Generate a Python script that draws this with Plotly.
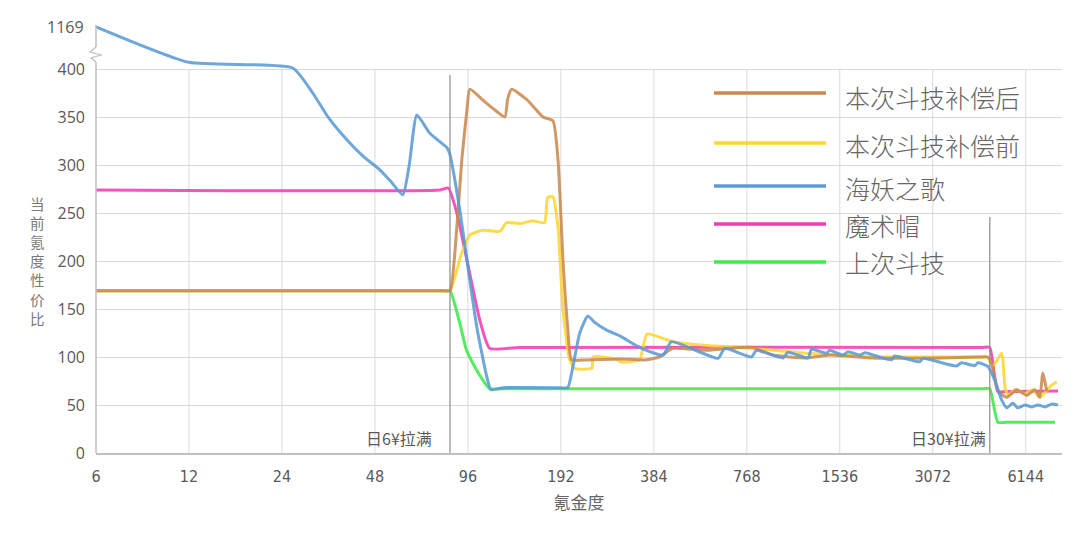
import math
import plotly.graph_objects as go

# ---------------- data ----------------
x_ticks = [6, 12, 24, 48, 96, 192, 384, 768, 1536, 3072, 6144]
y_ticks = [0, 50, 100, 150, 200, 250, 300, 350, 400]
y_top_label = 1169
x_min, x_max = 6, 8050

series_names = ["本次斗技补偿后", "本次斗技补偿前", "海妖之歌", "魔术帽", "上次斗技"]
series_colors = ["#CB8A52", "#FFD633", "#5B9BD5", "#F23DB5", "#3DEB4A"]

after_x = [6, 80, 84, 88.4, 91.7, 95.3, 97.4, 107, 115.6, 126.5, 129, 133, 149, 168, 181, 188,
           195, 202, 208, 230, 300, 360, 400, 442, 570, 729, 804, 932, 1201, 1425, 1966, 3245,
           4400, 4620, 4750, 5007, 5334, 5746, 6190, 6579, 6820, 6974, 7193]
after_y = [169, 169, 169, 235, 305, 357, 379, 368, 359, 350, 368, 379, 368, 350, 346, 305,
           201, 131, 97, 97, 98, 97, 100, 109, 107, 110, 110, 102, 99, 102, 99, 99,
           100, 100, 95, 64, 58, 66, 60, 66, 58, 83, 64]

before_x = [6, 80, 84, 91.6, 97.4, 107, 122, 128, 143, 155, 170, 174, 181, 188, 195, 205, 213,
            242, 244, 289, 300, 345, 365, 442, 570, 729, 932, 1201, 1540, 1966, 3245, 4400, 4620,
            4800, 5137, 5260, 5390, 5660, 6100, 6480, 6820, 7470, 7750]
before_y = [169, 169, 169, 208, 227, 232, 231, 240, 239, 242, 240, 266, 267, 235, 149, 97, 88,
            88.5, 100, 98, 95, 97, 124, 116, 112, 110, 107, 104, 102, 100, 100, 100, 100,
            90, 104, 69, 60, 66, 62, 66, 58, 71, 74]

siren_x = [6, 12, 26, 30.2, 34, 39, 44, 49.8, 54, 59.1, 62, 65.6, 72.3, 82.1, 83.8, 90.4, 95.3,
           102.6, 110.6, 114, 125, 190, 202, 210, 221, 234.6, 247, 270, 298, 345, 411, 438, 620,
           651, 795, 825, 1006, 1044, 1212, 1243, 1391, 1425, 1573, 1634, 1782, 1851, 2256, 2313,
           2786, 2857, 3665, 3804, 4200, 4304, 4637, 4876, 5137, 5334, 5578, 5789, 6100, 6436,
           6727, 7087, 7470, 7810]
siren_y = [1169, 407, 401, 375, 349, 326, 309, 295, 283, 269, 300, 352, 333, 318, 312, 253, 201,
           131, 79, 66, 68, 68, 68, 90, 125, 142.7, 136, 128, 122, 110, 102, 116, 98.6,
           109, 100, 107, 99, 105, 99, 108, 104, 107, 102, 105.5, 102, 104.5, 97, 101,
           95, 98.6, 90.6, 94, 91, 94, 90, 76, 55, 47, 52, 47, 50, 48,
           50, 48, 51, 50]

hat_x = [6, 78, 83, 88.4, 95.3, 105, 113, 141, 4450, 4696, 4987, 5300, 7810]
hat_y = [274, 274, 276, 250, 201, 138, 109, 110, 110, 110, 64, 64, 64.5]

last_x = [6, 80, 84, 90.4, 95, 102.6, 113, 125, 4450, 4696, 4987, 5300, 7640]
last_y = [169, 169, 169, 135, 107, 86, 67, 67, 67, 67, 32, 32, 32]

marker_x = [84, 4700]
marker_text = ["日6¥拉满", "日30¥拉满"]

# axis break: values above the break are compressed toward the top label
BREAK_START = 420
TOP_POS = 444


def to_axis(v):
    if v <= BREAK_START:
        return v
    return BREAK_START + (v - BREAK_START) * (TOP_POS - BREAK_START) / (y_top_label - BREAK_START)


# ---------------- layout geometry ----------------
W, H = 1080, 535
OFF = 8  # page body margin in the browser
PL, PR, PT, PB = 96, 1062, 21, 453  # plot area in window pixels
ML, MR, MT, MB = PL - OFF, W - (PR - OFF), PT - OFF, H - (PB - OFF)
PW, PH = PR - PL, PB - PT
Y_MAX = 450


def px(xp):
    return (xp - PL) / PW


def py(yp):
    return (PB - yp) / PH


def xdata_paper(v):
    return (math.log10(v) - math.log10(x_min)) / (math.log10(x_max) - math.log10(x_min))


fig = go.Figure()
traces = [
    (hat_x, hat_y, 3),
    (last_x, last_y, 4),
    (before_x, before_y, 1),
    (after_x, after_y, 0),
    (siren_x, siren_y, 2),
]
for xs, ys, idx in traces:
    fig.add_trace(go.Scatter(
        x=xs, y=[to_axis(v) for v in ys], mode="lines", name=series_names[idx],
        line=dict(color=series_colors[idx], width=3, shape="spline", smoothing=0.5),
        opacity=0.88, showlegend=False, hoverinfo="skip"))

shapes = []
# vertical gridlines (0..400 only)
for xv in x_ticks[1:]:
    shapes.append(dict(type="line", xref="paper", yref="y", x0=xdata_paper(xv), x1=xdata_paper(xv),
                       y0=0, y1=400, line=dict(color="#D9D9D9", width=1), layer="below"))
# y axis line with break
shapes.append(dict(type="line", xref="paper", yref="paper", x0=0, x1=0, y0=0, y1=py(62),
                   line=dict(color="#BFBFBF", width=1.5)))
shapes.append(dict(type="line", xref="paper", yref="paper", x0=0, x1=0, y0=py(47), y1=py(25),
                   line=dict(color="#BFBFBF", width=1.5)))
zig = [(96, 47), (90, 52), (101, 55), (91, 58), (96, 62)]
path = "M " + " L ".join(f"{px(a):.5f},{py(b):.5f}" for a, b in zig)
shapes.append(dict(type="path", xref="paper", yref="paper", path=path,
                   line=dict(color="#BFBFBF", width=1.2)))
# price marker lines
shapes.append(dict(type="line", xref="paper", yref="paper", x0=xdata_paper(marker_x[0]),
                   x1=xdata_paper(marker_x[0]), y0=0, y1=py(75),
                   line=dict(color="#8C8C8C", width=1.2)))
shapes.append(dict(type="line", xref="paper", yref="paper", x0=xdata_paper(marker_x[1]),
                   x1=xdata_paper(marker_x[1]), y0=0, y1=py(217),
                   line=dict(color="#8C8C8C", width=1.2)))

annotations = []
# custom legend with long line samples
leg_line_y = [93, 143, 186, 224, 262]
leg_text_y = [97, 145, 188, 225, 262]
for i, name in enumerate(series_names):
    shapes.append(dict(type="line", xref="paper", yref="paper", x0=px(714), x1=px(826),
                       y0=py(leg_line_y[i]), y1=py(leg_line_y[i]),
                       line=dict(color=series_colors[i], width=3.5)))
    annotations.append(dict(xref="paper", yref="paper", x=px(843), y=py(leg_text_y[i]),
                            text=name, showarrow=False, xanchor="left", yanchor="middle",
                            font=dict(family="Noto Sans CJK SC", size=25, color="#666666",
                                      weight=300)))
# top label for the broken axis
annotations.append(dict(xref="paper", yref="y", x=px(86), y=TOP_POS, text=str(y_top_label),
                        showarrow=False, xanchor="right", yanchor="middle",
                        font=dict(family="Open Sans", size=16, color="#595959")))
# y title stacked vertically, one character per line
for k, ch in enumerate("当前氪度性价比"):
    annotations.append(dict(xref="paper", yref="paper", x=px(37), y=py(203 + k * 19.2),
                            text=ch, showarrow=False, xanchor="center", yanchor="middle",
                            borderpad=0,
                            font=dict(family="Noto Sans CJK SC", size=14.5, color="#7A7A7A")))
# marker captions
annotations.append(dict(xref="paper", yref="paper", x=px(434), y=py(438), text=marker_text[0],
                        showarrow=False, xanchor="right", yanchor="middle",
                        font=dict(family="Noto Sans CJK SC", size=16, color="#595959")))
annotations.append(dict(xref="paper", yref="paper", x=px(988), y=py(438), text=marker_text[1],
                        showarrow=False, xanchor="right", yanchor="middle",
                        font=dict(family="Noto Sans CJK SC", size=16, color="#595959")))

fig.update_layout(
    width=W, height=H,
    margin=dict(l=ML, r=MR, t=MT, b=MB, pad=0),
    paper_bgcolor="white", plot_bgcolor="white",
    shapes=shapes, annotations=annotations,
    showlegend=False,
    xaxis=dict(type="log", range=[math.log10(x_min), math.log10(x_max)],
               tickvals=x_ticks, ticktext=[str(v) for v in x_ticks], automargin=False,
               showgrid=False, zeroline=False, showline=True, linecolor="#BFBFBF", linewidth=1.5,
               ticks="", ticklabelstandoff=8,
               tickfont=dict(family="Liberation Sans Narrow, DejaVu Sans Condensed, Arial Narrow",
                             size=16, color="#595959"),
               title=dict(text="氪金度", standoff=12,
                          font=dict(family="Noto Sans CJK SC", size=17, color="#666666"))),
    yaxis=dict(range=[0, Y_MAX], tickvals=y_ticks, showgrid=True, gridcolor="#D9D9D9",
               gridwidth=1, zeroline=False, showline=False, ticks="", ticklabelstandoff=10,
               automargin=False,
               tickfont=dict(family="Open Sans", size=16, color="#595959")),
)

fig.write_html("out.html")
